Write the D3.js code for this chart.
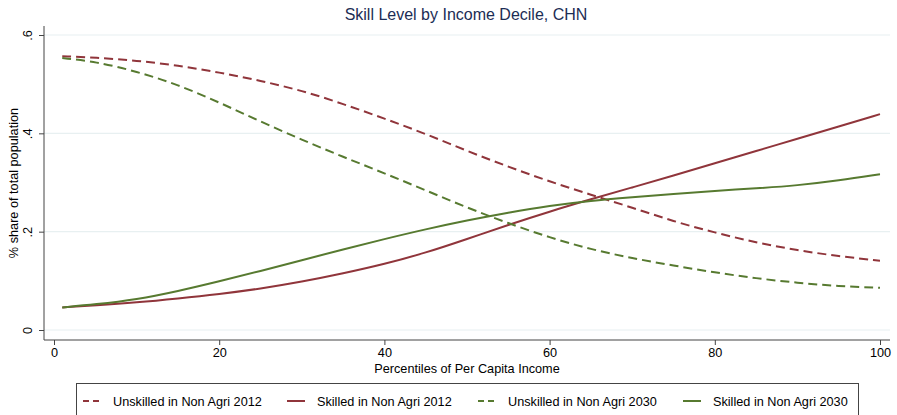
<!DOCTYPE html>
<html>
<head>
<meta charset="utf-8">
<script src="https://cdn.jsdelivr.net/npm/d3@7"></script>
<style>
  body { margin: 0; background: #fff; }
  svg { display: block; font-family: "Liberation Sans", Arial, sans-serif; }
</style>
</head>
<body>
<svg width="897" height="415"></svg>
<script>
var percentiles = [1, 5, 10, 15, 20, 25, 30, 35, 40, 45, 50, 55, 60, 65, 70, 75, 80, 85, 90, 95, 100];

// share of total population per series
var unskilled2012 = [.557, .554, .548, .538, .524, .507, .487, .460, .430, .399, .364, .332, .302, .275, .249, .221, .198, .178, .162, .150, .141];
var skilled2012 = [.046, .050, .056, .064, .073, .084, .098, .115, .134, .157, .185, .214, .241, .266, .290, .314, .339, .364, .389, .414, .439];
var unskilled2030 = [.553, .546, .526, .499, .463, .424, .387, .352, .319, .284, .249, .217, .188, .164, .146, .131, .117, .105, .096, .089, .086];
var skilled2030 = [.046, .052, .062, .079, .099, .120, .142, .164, .185, .205, .223, .239, .253, .263, .270, .277, .283, .288, .294, .304, .317];

var xTicks = [0, 20, 40, 60, 80, 100];
var yTicks = [0, .2, .4, .6];

var red = "#90353b", green = "#577a30";

var series = [
  { name: "Unskilled in Non Agri 2012", values: unskilled2012, color: red, dash: "9,5" },
  { name: "Skilled in Non Agri 2012", values: skilled2012, color: red, dash: null },
  { name: "Unskilled in Non Agri 2030", values: unskilled2030, color: green, dash: "9,5" },
  { name: "Skilled in Non Agri 2030", values: skilled2030, color: green, dash: null }
];

var svg = d3.select("svg");

var plotLeft = 44, plotRight = 890, plotTop = 26, plotBottom = 340;

var x = d3.scaleLinear().domain([0, 100]).range([54, 880]);
var y = d3.scaleLinear().domain([0, .6]).range([330, 35]);

// title
svg.append("text")
  .attr("x", 466)
  .attr("y", 20)
  .attr("text-anchor", "middle")
  .style("font-size", "16px")
  .style("fill", "#1c2d55")
  .text("Skill Level by Income Decile, CHN");

// gridlines
svg.append("g")
  .selectAll("line")
  .data(yTicks)
  .enter()
  .append("line")
  .attr("x1", plotLeft)
  .attr("x2", plotRight)
  .attr("y1", (d) => y(d))
  .attr("y2", (d) => y(d))
  .style("stroke", "#e8f0f1")
  .style("stroke-width", 1.2);

// y axis
var yAxis = svg.append("g")
  .attr("transform", "translate(" + plotLeft + ",0)")
  .call(d3.axisLeft(y).tickValues(yTicks).tickSize(5).tickPadding(4)
    .tickFormat((d) => d === 0 ? "0" : d3.format(".1f")(d).replace(/^0/, "")));
yAxis.select(".domain").attr("d", "M0," + plotTop + "V" + plotBottom).style("stroke", "#444");
yAxis.selectAll(".tick line").style("stroke", "#444");
yAxis.selectAll(".tick text")
  .attr("transform", "rotate(-90)")
  .attr("x", 0)
  .attr("y", -12)
  .attr("dy", 0)
  .attr("text-anchor", "middle")
  .style("font-size", "12.7px")
  .style("font-family", "Liberation Sans, Arial, sans-serif")
  .style("fill", "#000");

// x axis
var xAxis = svg.append("g")
  .attr("transform", "translate(0," + plotBottom + ")")
  .call(d3.axisBottom(x).tickValues(xTicks).tickSize(5).tickPadding(3));
xAxis.select(".domain").attr("d", "M" + plotLeft + ",0H" + plotRight).style("stroke", "#444");
xAxis.selectAll(".tick line").style("stroke", "#444");
xAxis.selectAll(".tick text")
  .style("font-size", "12.7px")
  .style("font-family", "Liberation Sans, Arial, sans-serif")
  .style("fill", "#000");

// axis titles
svg.append("text")
  .attr("x", 467)
  .attr("y", 373)
  .attr("text-anchor", "middle")
  .style("font-size", "12.7px")
  .text("Percentiles of Per Capita Income");

svg.append("text")
  .attr("transform", "translate(18,183) rotate(-90)")
  .attr("text-anchor", "middle")
  .style("font-size", "12.7px")
  .text("% share of total population");

// lines
var line = d3.line()
  .x((d, i) => x(percentiles[i]))
  .y((d) => y(d))
  .curve(d3.curveBasis);

svg.append("g")
  .selectAll("path")
  .data(series)
  .enter()
  .append("path")
  .attr("d", (d) => line(d.values))
  .style("fill", "none")
  .style("stroke", (d) => d.color)
  .style("stroke-width", 2)
  .style("stroke-dasharray", (d) => d.dash);

// legend
var legend = svg.append("g");
legend.append("rect")
  .attr("x", 76.5)
  .attr("y", 383.5)
  .attr("width", 782)
  .attr("height", 40)
  .style("fill", "#fff")
  .style("stroke", "#444");

var legendX = [83, 287, 478, 683];
var item = legend.selectAll(".item")
  .data(series)
  .enter()
  .append("g")
  .attr("class", "item")
  .attr("transform", (d, i) => "translate(" + legendX[i] + ",401)");

item.append("line")
  .attr("x1", 0)
  .attr("x2", 18)
  .attr("y1", 0)
  .attr("y2", 0)
  .style("stroke", (d) => d.color)
  .style("stroke-width", 2)
  .style("stroke-dasharray", (d) => d.dash ? "6,4" : null);

item.append("text")
  .attr("x", 30)
  .attr("y", 4.5)
  .style("font-size", "12.7px")
  .text((d) => d.name);
</script>
</body>
</html>
